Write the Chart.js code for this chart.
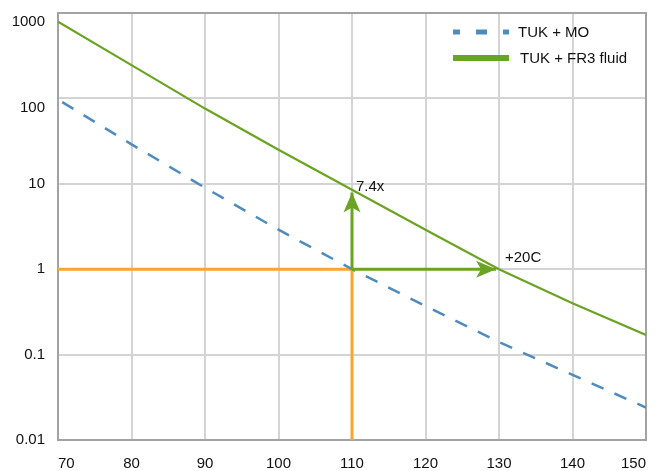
<!DOCTYPE html>
<html lang="en">
<head>
<meta charset="UTF-8">
<title>Relative insulation life: TUK + MO vs TUK + FR3 fluid</title>
<script src="https://cdn.jsdelivr.net/npm/chart.js"></script>
<style>
  html, body { margin: 0; padding: 0; background: #fff; }
</style>
</head>
<body>
<canvas id="chart" width="661" height="471"></canvas>
<script>
// hot spot temperature (C) and relative life
const temps = [70, 80, 90, 100, 110, 120, 130, 140, 150];
const lifeMO = [97, 29, 9.0, 2.9, 1.0, 0.37, 0.14, 0.058, 0.024];
const lifeFR3 = [790, 245, 76, 25, 8.5, 2.9, 1.0, 0.40, 0.17];

// axis ticks
const xTicks = [70, 80, 90, 100, 110, 120, 130, 140, 150];
const yTicks = [0.01, 0.1, 1, 10, 100, 1000];
const yTickLabels = ['0.01', '0.1', '1', '10', '100', '1000'];

// orange reference lines (1.0 life at 110 C)
const refHx = [70, 110], refHy = [1, 1];
const refVx = [110, 110], refVy = [0.01, 1];

// green arrows
const upX = [110, 110], upY = [1, 7.9];
const rightX = [110, 129.6], rightY = [1, 1];

// notes
const notes = [
  { text: '7.4x', x: 110, y: 10, dx: 4, dy: 3 },
  { text: '+20C', x: 130, y: 1, dx: 6, dy: -11 }
];

const blue = '#4f8cbd';
const green = '#6ba322';
const orange = '#f7a632';
const gridColor = '#d4d4d4';
const axisColor = '#a3a3a3';
const textColor = '#111111';
const fontFamily = 'Arial, "Liberation Sans", Helvetica, sans-serif';

const pts = (xs, ys) => xs.map((x, i) => ({ x: x, y: ys[i] }));

// top and right edges of the plot box
const frame = {
  id: 'frame',
  beforeDatasetsDraw(chart) {
    const a = chart.chartArea, c = chart.ctx;
    c.save();
    c.strokeStyle = axisColor;
    c.lineWidth = 2;
    c.beginPath();
    c.moveTo(a.left, a.top);
    c.lineTo(a.right, a.top);
    c.lineTo(a.right, a.bottom);
    c.stroke();
    c.restore();
  }
};

// arrow heads, notes and the legend
const extras = {
  id: 'extras',
  afterDatasetsDraw(chart) {
    const c = chart.ctx;
    const xs = chart.scales.x, ys = chart.scales.y;

    function head(xArr, yArr) {
      const x0 = xs.getPixelForValue(xArr[0]), y0 = ys.getPixelForValue(yArr[0]);
      const x1 = xs.getPixelForValue(xArr[1]), y1 = ys.getPixelForValue(yArr[1]);
      const len = Math.hypot(x1 - x0, y1 - y0);
      const ux = (x1 - x0) / len, uy = (y1 - y0) / len;
      const px = -uy, py = ux;
      c.beginPath();
      c.moveTo(x1, y1);
      c.lineTo(x1 - ux * 20 + px * 8.5, y1 - uy * 20 + py * 8.5);
      c.lineTo(x1 - ux * 15, y1 - uy * 15);
      c.lineTo(x1 - ux * 20 - px * 8.5, y1 - uy * 20 - py * 8.5);
      c.closePath();
      c.fill();
    }

    c.save();
    c.fillStyle = green;
    head(upX, upY);
    head(rightX, rightY);

    c.fillStyle = textColor;
    c.font = '15px ' + fontFamily;
    c.textAlign = 'left';
    c.textBaseline = 'middle';
    notes.forEach(n => {
      c.fillText(n.text, xs.getPixelForValue(n.x) + n.dx, ys.getPixelForValue(n.y) + n.dy);
    });

    // legend
    const lx0 = 453, lx1 = 509;
    const rows = [
      { ds: chart.data.datasets[0], y: 32, tx: 518 },
      { ds: chart.data.datasets[1], y: 58, tx: 520 }
    ];
    rows.forEach(r => {
      c.save();
      c.strokeStyle = r.ds.borderColor;
      if (r.ds.borderDash) {
        c.lineWidth = 5;
        c.setLineDash([11, 16]);
        c.lineDashOffset = 4;
      } else {
        c.lineWidth = 6;
      }
      c.beginPath();
      c.moveTo(lx0, r.y);
      c.lineTo(lx1, r.y);
      c.stroke();
      c.restore();
      c.fillText(r.ds.label, r.tx, r.y + 1);
    });
    c.restore();
  }
};

const ctx = document.getElementById('chart').getContext('2d');
const chart = new Chart(ctx, {
  type: 'line',
  data: {
    datasets: [
      {
        label: 'TUK + MO',
        data: pts(temps, lifeMO),
        borderColor: blue,
        borderWidth: 2.5,
        borderDash: [13, 12],
        borderDashOffset: 20,
        order: 2
      },
      {
        label: 'TUK + FR3 fluid',
        data: pts(temps, lifeFR3),
        borderColor: green,
        borderWidth: 2.2,
        order: 1
      },
      {
        label: 'ref horizontal',
        data: pts(refHx, refHy),
        borderColor: orange,
        borderWidth: 3,
        order: 3
      },
      {
        label: 'ref vertical',
        data: pts(refVx, refVy),
        borderColor: orange,
        borderWidth: 3,
        order: 3
      },
      {
        label: 'arrow up',
        data: pts(upX, upY),
        borderColor: green,
        borderWidth: 3,
        order: 0
      },
      {
        label: 'arrow right',
        data: pts(rightX, rightY),
        borderColor: green,
        borderWidth: 3,
        order: 0
      }
    ]
  },
  options: {
    responsive: false,
    animation: false,
    layout: { padding: { top: 13, right: 15, left: 0, bottom: 0 } },
    plugins: {
      legend: { display: false },
      tooltip: { enabled: false }
    },
    elements: {
      point: { radius: 0 },
      line: { tension: 0, fill: false, borderCapStyle: 'butt' }
    },
    scales: {
      x: {
        type: 'linear',
        min: 70,
        max: 150,
        afterBuildTicks: s => { s.ticks = xTicks.map(v => ({ value: v })); },
        afterFit: s => { s.height = 31; },
        grid: { color: gridColor, lineWidth: 2, drawTicks: false },
        border: { color: axisColor, width: 2 },
        ticks: {
          align: 'inner',
          padding: 15,
          color: textColor,
          font: { family: fontFamily, size: 15 },
          callback: v => String(v)
        }
      },
      y: {
        type: 'logarithmic',
        min: 0.01,
        max: 1000,
        afterBuildTicks: s => { s.ticks = yTicks.map(v => ({ value: v })); },
        afterFit: s => {
          s.width = 58;
          s.paddingTop = 0;
          s.paddingBottom = 0;
        },
        grid: { color: gridColor, lineWidth: 2, drawTicks: false },
        border: { color: axisColor, width: 2 },
        ticks: {
          padding: 13,
          color: textColor,
          font: { family: fontFamily, size: 15 },
          callback: (v, i) => {
            const lab = yTickLabels[i];
            // the two top labels sit a little below their grid lines
            return i >= 4 ? ['', lab] : lab;
          }
        }
      }
    }
  },
  plugins: [frame, extras]
});
</script>
</body>
</html>
